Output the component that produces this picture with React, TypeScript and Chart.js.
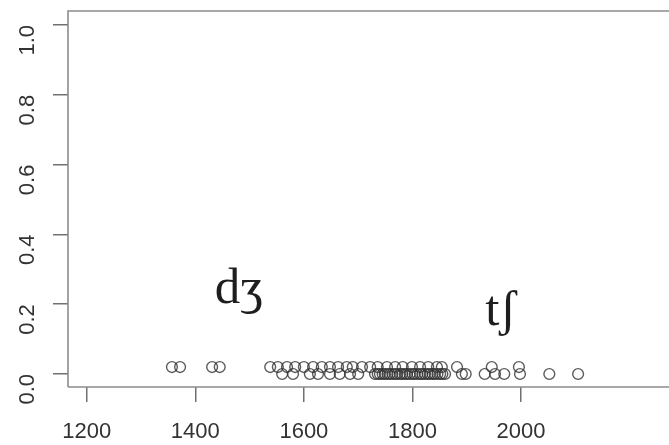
import React, { useEffect, useRef } from "react";
import { Chart, registerables } from "chart.js";

Chart.register(...registerables);

// Years of attestation, jittered rows: upper row at 0.02, lower row at 0.0
const upperYears = [
  1357, 1372, 1431, 1445, 1538, 1552, 1569, 1584, 1600, 1617, 1633, 1648, 1663,
  1679, 1690, 1707, 1722, 1736, 1753, 1768, 1782, 1799, 1814, 1829, 1845, 1854,
  1882, 1946, 1996,
];
const lowerYears = [
  1560, 1580, 1611, 1626, 1648, 1666, 1685, 1700, 1731, 1736, 1740, 1745, 1749,
  1754, 1758, 1763, 1768, 1772, 1777, 1781, 1786, 1790, 1795, 1800, 1804, 1809,
  1814, 1818, 1823, 1828, 1832, 1837, 1841, 1846, 1851, 1855, 1860, 1891, 1898,
  1933, 1952, 1969, 1998, 2052, 2105,
];
const upperLevel = 0.02;
const lowerLevel = 0.0;

const xTicks = [1200, 1400, 1600, 1800, 2000];
const yTicks = [0.0, 0.2, 0.4, 0.6, 0.8, 1.0];

// Phoneme labels placed in data space
const phonemeLabels = [
  { text: "dʒ", x: 1436, y: 0.203 },
  { text: "tʃ", x: 1934, y: 0.14 },
];

const frameColor = "#8c8c8c";
const tickColor = "#707070";
const labelColor = "#333333";

const framePlugin = {
  id: "frameAndLabels",
  afterDraw(chart: any) {
    const { ctx, chartArea, scales } = chart;
    ctx.save();
    ctx.strokeStyle = frameColor;
    ctx.lineWidth = 1.6;
    ctx.beginPath();
    ctx.moveTo(chartArea.left, chartArea.bottom);
    ctx.lineTo(chartArea.left, chartArea.top);
    ctx.lineTo(chartArea.right + 2, chartArea.top);
    ctx.moveTo(chartArea.left, chartArea.bottom);
    ctx.lineTo(chartArea.right + 2, chartArea.bottom);
    ctx.stroke();

    ctx.fillStyle = "#1e1e1e";
    ctx.font = "51px 'Liberation Serif', serif";
    ctx.textAlign = "left";
    ctx.textBaseline = "alphabetic";
    for (const l of phonemeLabels) {
      ctx.fillText(
        l.text,
        scales.x.getPixelForValue(l.x),
        scales.y.getPixelForValue(l.y)
      );
    }
    ctx.restore();
  },
};

const noPadding = (s: any) => {
  s.paddingTop = 0;
  s.paddingBottom = 0;
  s.paddingLeft = 0;
  s.paddingRight = 0;
};

export default function App() {
  const canvasRef = useRef<HTMLCanvasElement | null>(null);

  useEffect(() => {
    document.body.style.margin = "0";
    const canvas = canvasRef.current;
    if (!canvas) return;

    const pointStyle = {
      pointStyle: "circle",
      pointRadius: 5.4,
      pointBorderWidth: 1.4,
      pointBackgroundColor: "rgba(0,0,0,0)",
      pointBorderColor: "rgba(50,50,50,0.8)",
      showLine: false,
    };

    const tickFont = { family: "'Liberation Sans', Arial, sans-serif", size: 22 };

    const chart = new Chart(canvas, {
      type: "scatter",
      data: {
        datasets: [
          {
            data: upperYears.map((x) => ({ x, y: upperLevel })),
            ...pointStyle,
          },
          {
            data: lowerYears.map((x) => ({ x, y: lowerLevel })),
            ...pointStyle,
          },
        ],
      },
      options: {
        animation: false,
        responsive: false,
        maintainAspectRatio: false,
        layout: { autoPadding: false, padding: { top: 11, right: 0, left: 0, bottom: 0 } },
        plugins: {
          legend: { display: false },
          tooltip: { enabled: false },
        },
        scales: {
          x: {
            type: "linear",
            min: 1165.6,
            max: 2272.4,
            afterBuildTicks: (s: any) => {
              s.ticks = xTicks.map((v) => ({ value: v }));
            },
            afterFit: (s: any) => {
              s.height = 58;
              noPadding(s);
            },
            grid: {
              drawOnChartArea: false,
              drawTicks: true,
              tickLength: 15,
              tickColor: tickColor,
              lineWidth: 1.5,
            },
            border: { display: false },
            ticks: {
              color: labelColor,
              font: tickFont,
              padding: 17,
              maxRotation: 0,
              minRotation: 0,
              callback: (v: any) => String(v),
            },
          },
          y: {
            type: "linear",
            min: -0.0372,
            max: 1.0401,
            afterBuildTicks: (s: any) => {
              s.ticks = yTicks.map((v) => ({ value: v }));
            },
            afterFit: (s: any) => {
              s.width = 68;
              noPadding(s);
            },
            grid: {
              drawOnChartArea: false,
              drawTicks: true,
              tickLength: 15,
              tickColor: tickColor,
              lineWidth: 1.5,
            },
            border: { display: false },
            ticks: {
              color: labelColor,
              font: tickFont,
              padding: 25,
              minRotation: 90,
              maxRotation: 90,
              callback: (v: any) => Number(v).toFixed(1),
            },
          },
        },
      },
      plugins: [framePlugin],
    });

    return () => chart.destroy();
  }, []);

  return (
    <div style={{ position: "fixed", left: 0, top: 0, width: 669, height: 445, background: "#fff" }}>
      <canvas ref={canvasRef} width={669} height={445} />
    </div>
  );
}
